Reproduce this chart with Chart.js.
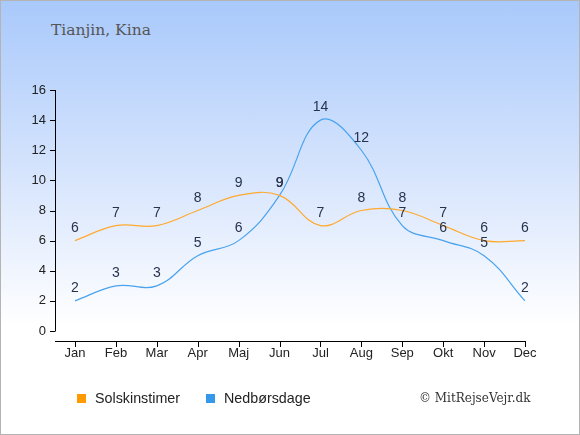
<!DOCTYPE html>
<html>
<head>
<meta charset="utf-8">
<script src="https://cdn.jsdelivr.net/npm/chart.js@4.4.1/dist/chart.umd.min.js"></script>
<style>
  html, body { margin: 0; padding: 0; }
  #frame {
    position: relative;
    width: 578px;
    height: 433px;
    border: 1px solid #b4b4b4;
    background: linear-gradient(to bottom, #a9c9fb 0%, #dce8fd 45%, #ffffff 75%, #ffffff 100%);
    overflow: hidden;
  }
  #wheel-title {
    position: absolute; left: 50px; top: 20px;
    font-family: "DejaVu Serif", "Liberation Serif", serif;
    font-size: 15.5px; color: #555;
  }
  canvas { position: absolute; left: -1px; top: -1px; }
  .legend {
    position: absolute; top: 389px;
    font-family: "Liberation Sans", Arial, sans-serif;
    font-size: 14.3px; color: #222;
  }
  .legend span.box {
    display: inline-block; width: 9px; height: 9px;
    margin-right: 9px; vertical-align: 0px;
  }
  #copy {
    position: absolute; left: 418px; top: 390px;
    font-family: "DejaVu Serif", "Liberation Serif", serif;
    font-size: 12px; color: #333;
  }
</style>
</head>
<body>
<div id="frame">
  <div id="wheel-title">Tianjin, Kina</div>
  <canvas id="chart" width="580" height="435"></canvas>
  <div class="legend" style="left:76px"><span class="box" style="background:#ff9a00"></span>Solskinstimer</div>
  <div class="legend" style="left:205px"><span class="box" style="background:#3598ea"></span>Nedbørsdage</div>
  <div id="copy">© MitRejseVejr.dk</div>
</div>
<script>
// Months and values
const months = ["Jan", "Feb", "Mar", "Apr", "Maj", "Jun", "Jul", "Aug", "Sep", "Okt", "Nov", "Dec"];
const sunHours = [6, 7, 7, 8, 9, 9, 7, 8, 8, 7, 6, 6];
const rainDays = [2, 3, 3, 5, 6, 9, 14, 12, 7, 6, 5, 2];
const yTicks = [0, 2, 4, 6, 8, 10, 12, 14, 16];

const labelFont = '14px "Liberation Sans", Arial, sans-serif';

// Draws the detached axis lines with their small tick marks
const axisLines = {
  id: "axisLines",
  afterDraw(chart) {
    const ctx = chart.ctx;
    const x = chart.scales.x;
    const y = chart.scales.y;
    const axX = 55, axY = 341;
    ctx.save();
    ctx.strokeStyle = "#000";
    ctx.lineWidth = 1;
    ctx.beginPath();
    ctx.moveTo(axX + 0.5, y.getPixelForValue(16));
    ctx.lineTo(axX + 0.5, y.getPixelForValue(0));
    for (const t of yTicks) {
      const py = Math.round(y.getPixelForValue(t)) + 0.5;
      ctx.moveTo(axX - 5, py);
      ctx.lineTo(axX + 0.5, py);
    }
    ctx.moveTo(axX, axY + 0.5);
    ctx.lineTo(x.getPixelForValue(months.length - 1) + 0.5, axY + 0.5);
    for (let i = 0; i < months.length; i++) {
      const px = Math.round(x.getPixelForValue(i)) + 0.5;
      ctx.moveTo(px, axY);
      ctx.lineTo(px, axY + 6);
    }
    ctx.stroke();
    ctx.restore();
  },
};

// Value labels above each point
const pointLabels = {
  id: "pointLabels",
  afterDatasetsDraw(chart) {
    const ctx = chart.ctx;
    ctx.save();
    ctx.font = labelFont;
    ctx.fillStyle = "#27324d";
    ctx.textAlign = "center";
    ctx.textBaseline = "middle";
    chart.data.datasets.forEach((ds, di) => {
      chart.getDatasetMeta(di).data.forEach((pt, i) => {
        ctx.fillText(ds.data[i], pt.x, pt.y - 12.5);
      });
    });
    ctx.restore();
  },
};

new Chart(document.getElementById("chart"), {
  type: "line",
  plugins: [axisLines, pointLabels],
  data: {
    labels: months,
    datasets: [
      {
        label: "Solskinstimer",
        data: sunHours,
        borderColor: "#ffa92e",
        borderWidth: 1.2,
        pointRadius: 0,
        tension: 0.4,
        fill: false,
      },
      {
        label: "Nedbørsdage",
        data: rainDays,
        borderColor: "#4aa3ee",
        borderWidth: 1.2,
        pointRadius: 0,
        tension: 0.4,
        fill: false,
      },
    ],
  },
  options: {
    responsive: false,
    animation: false,
    layout: { padding: { top: 90, right: 55, left: 0, bottom: 0 } },
    plugins: {
      legend: { display: false },
      tooltip: { enabled: false },
    },
    scales: {
      x: {
        offset: false,
        grid: { display: false, drawTicks: false },
        border: { display: false },
        ticks: {
          color: "#222",
          font: { family: '"Liberation Sans", Arial, sans-serif', size: 13 },
          padding: 15,
          maxRotation: 0,
          autoSkip: false,
        },
        afterFit: (s) => { s.height = 104; },
      },
      y: {
        min: 0,
        max: 16,
        grid: { display: false, drawTicks: false },
        border: { display: false },
        ticks: {
          stepSize: 2,
          color: "#222",
          font: { family: '"Liberation Sans", Arial, sans-serif', size: 13 },
          padding: 29,
        },
        afterFit: (s) => { s.width = 75; },
      },
    },
  },
});
</script>
</body>
</html>
